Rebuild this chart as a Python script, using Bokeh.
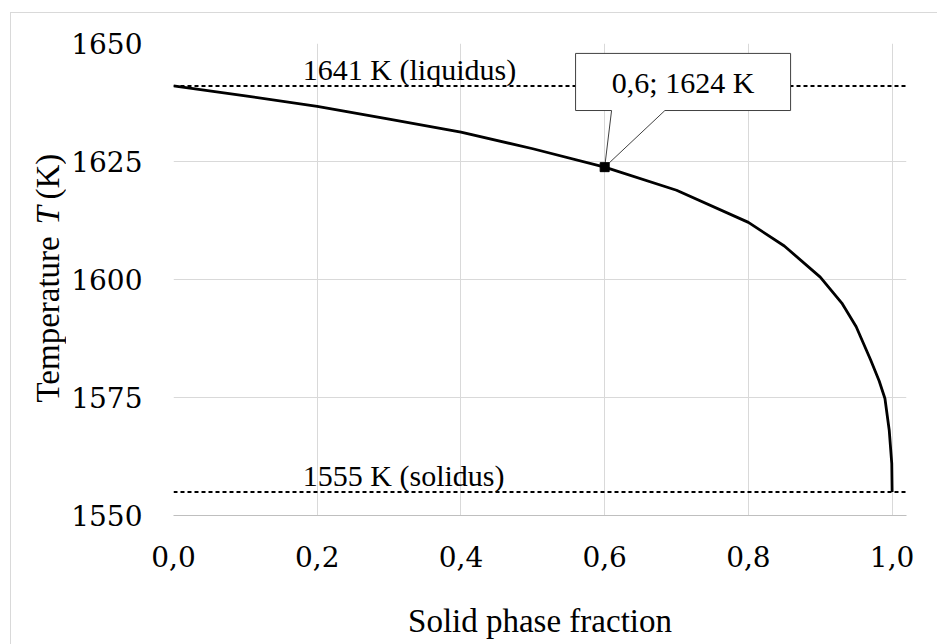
import numpy as np
from bokeh.plotting import figure
from bokeh.layouts import row
from bokeh.models import Range1d, FixedTicker, CustomJSTickFormatter, Span, Label
from bokeh.embed import file_html
from bokeh.resources import INLINE

# ---- data ----
solid_fraction = [0.0, 0.1, 0.2, 0.3, 0.4, 0.5, 0.6, 0.7, 0.8, 0.85, 0.9, 0.93,
                  0.95, 0.97, 0.982, 0.99, 0.996, 0.9995, 1.0]
temperature = [1641.0, 1638.9, 1636.7, 1634.0, 1631.2, 1627.7, 1623.8, 1618.9,
               1612.1, 1607.1, 1600.5, 1595.0, 1590.0, 1583.0, 1578.5, 1574.8,
               1568.0, 1561.0, 1555.0]
liquidus_T = 1641
solidus_T = 1555
liquidus_label = "1641 K (liquidus)"
solidus_label = "1555 K (solidus)"
marked_fs = 0.6
marked_T = 1623.8
marked_label = "0,6; 1624 K"
x_ticks = [0.0, 0.2, 0.4, 0.6, 0.8, 1.0]
y_ticks = [1550, 1575, 1600, 1625, 1650]
y_title_parts = ["Temperature", "T", "(K)"]
x_title = "Solid phase fraction"

FONT = "Liberation Serif"
TICK_FONT = "DejaVu Serif"
TOTAL_W, TOTAL_H = 926, 631
TITLE_W = 55
y_range = Range1d(1550, 1650)
PX_PER_UNIT = 4.72  # vertical px per kelvin of the frame

# ---- left strip holding the y-axis title (italic T) ----
t = figure(width=TITLE_W, height=TOTAL_H, x_range=Range1d(0, TITLE_W), y_range=y_range,
           output_backend="svg", toolbar_location=None, x_axis_location=None, y_axis_location=None,
           min_border_left=0, min_border_right=0, min_border_top=0, min_border_bottom=0)
t.outline_line_color = None
t.xgrid.visible = False
t.ygrid.visible = False
t.border_fill_color = "white"
t.background_fill_color = "white"
y_mid = (y_range.start + y_range.end) / 2
offsets = [-123, 55, 80]   # px along the vertical, from the frame centre
styles = ["normal", "italic", "normal"]
for txt, style, off in zip(y_title_parts, styles, offsets):
    t.add_layout(Label(x=36, y=y_mid + off / PX_PER_UNIT, text=txt, angle=np.pi / 2,
                       text_font=FONT, text_font_size="33px", text_font_style=style,
                       text_color="black", text_align="left", text_baseline="middle"))

# ---- main chart ----
p = figure(width=TOTAL_W - TITLE_W, height=TOTAL_H, x_range=Range1d(0, 1.02),
           y_range=y_range, output_backend="svg", toolbar_location=None,
           min_border_left=162 - TITLE_W, min_border_right=31, min_border_top=30,
           min_border_bottom=129)
p.outline_line_color = None
p.background_fill_color = "white"
p.border_fill_color = "white"

p.xaxis.ticker = FixedTicker(ticks=x_ticks)
p.yaxis.ticker = FixedTicker(ticks=y_ticks)
p.xaxis.formatter = CustomJSTickFormatter(code="return tick.toFixed(1).replace('.', ',');")
p.xgrid.ticker = FixedTicker(ticks=x_ticks)
p.ygrid.ticker = FixedTicker(ticks=y_ticks)
for g in (p.xgrid, p.ygrid):
    g.grid_line_color = "#d9d9d9"
    g.grid_line_width = 1
for ax in (p.xaxis, p.yaxis):
    ax.major_tick_line_color = None
    ax.minor_tick_line_color = None
    ax.major_label_text_font = TICK_FONT
    ax.major_label_text_font_size = "28px"
    ax.major_label_text_font_style = "normal"
    ax.major_label_text_color = "black"
    ax.axis_label_text_font = FONT
    ax.axis_label_text_font_size = "33px"
    ax.axis_label_text_font_style = "normal"
    ax.axis_label_text_color = "black"
p.xaxis.axis_line_color = "#bfbfbf"
p.yaxis.axis_line_color = None
p.xaxis.major_label_standoff = 24
p.yaxis.major_label_standoff = 25
p.xaxis.axis_label = x_title
p.xaxis.axis_label_standoff = 33

for tval in (liquidus_T, solidus_T):
    p.add_layout(Span(location=tval, dimension="width", line_color="black",
                      line_width=2, line_dash="4 3", level="underlay"))

p.line(solid_fraction, temperature, line_color="black", line_width=2.8)

for tval, txt in ((liquidus_T, liquidus_label), (solidus_T, solidus_label)):
    p.add_layout(Label(x=0.18, y=tval, text=txt, y_offset=16,
                       text_font=FONT, text_font_size="30px", text_color="black",
                       text_align="left", text_baseline="alphabetic"))

box_left, box_right = 0.5595, 0.8587
box_bottom, box_top = 1635.8, 1647.9
ptr_left, ptr_right = 0.6096, 0.6838
p.patch([box_left, box_right, box_right, ptr_right, marked_fs, ptr_left, box_left],
        [box_top, box_top, box_bottom, box_bottom, marked_T, box_bottom, box_bottom],
        fill_color="white", line_color="#404040", line_width=1)
p.scatter([marked_fs], [marked_T], marker="square", size=9, color="black")
p.add_layout(Label(x=(box_left + box_right) / 2, y=(box_top + box_bottom) / 2, text=marked_label,
                   y_offset=-1, text_font=FONT, text_font_size="30px", text_color="black",
                   text_align="center", text_baseline="alphabetic"))

layout = row(t, p, margin=(12, 0, 0, 10))
layout.styles = {"border-left": "1px solid #d9d9d9", "border-top": "1px solid #d9d9d9"}

open("out.html", "w").write(file_html(layout, INLINE))
